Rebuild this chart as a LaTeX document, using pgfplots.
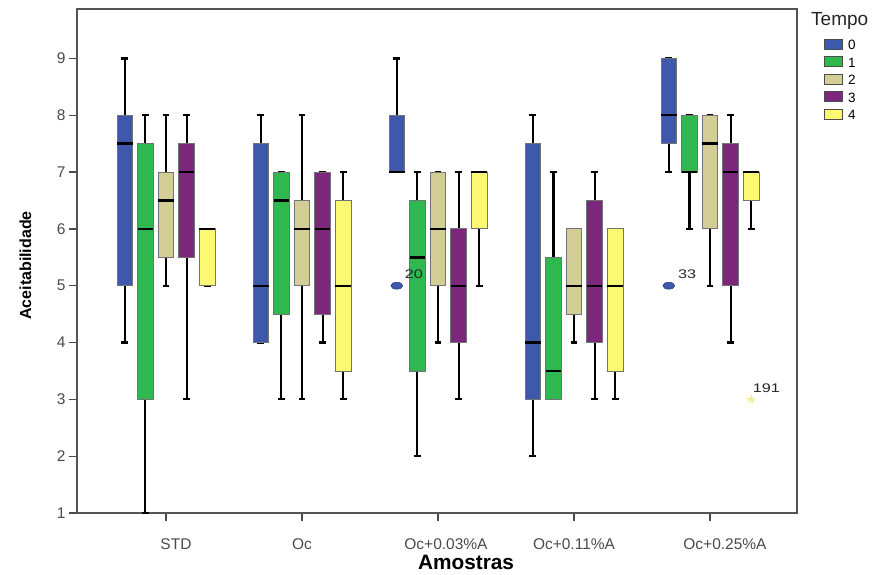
\documentclass[border=0pt]{standalone}
\usepackage{fontspec}
\setmainfont{Liberation Sans}
\usepackage{pgfplots}
\pgfplotsset{compat=1.18}
\usepgfplotslibrary{statistics}

\definecolor{c0}{HTML}{3E58AC}
\definecolor{c1}{HTML}{2EB84E}
\definecolor{c2}{HTML}{D3CE97}
\definecolor{c3}{HTML}{7C277C}
\definecolor{c4}{HTML}{FBF873}
\definecolor{starc}{HTML}{F2EA7A}
\definecolor{framec}{HTML}{555555}
\definecolor{tickc}{HTML}{4A4A4A}

% color, position, lower whisker, lower quartile, median, upper quartile, upper whisker
\newcommand{\bp}[7]{%
\addplot[forget plot, draw=black, line width=2.2pt,
  boxplot/every box/.style={fill=#1, draw=black!55, line width=0.8pt},
  boxplot/every whisker/.style={draw=black, line width=2.2pt},
  boxplot/every median/.style={draw=black, line width=2.4pt},
  boxplot prepared={draw position=#2, lower whisker=#3, lower quartile=#4,
  median=#5, upper quartile=#6, upper whisker=#7}] coordinates {};}

\begin{document}
\begin{tikzpicture}
\path[use as bounding box] (0,0) rectangle (873pt,574pt);
\begin{axis}[
  at={(77pt,61pt)}, anchor=south west,
  scale only axis, width=720pt, height=504pt,
  xmin=0.3456, xmax=5.6397, ymin=1, ymax=9.87,
  clip=false,
  axis line style={framec, line width=1.3pt},
  xtick={1,2,3,4,5},
  xticklabels={\hspace*{20pt}STD, Oc, \hspace*{16pt}Oc+0.03\%A, Oc+0.11\%A, \hspace*{30pt}Oc+0.25\%A},
  ytick={1,2,3,4,5,6,7,8,9},
  tick align=outside, xtick pos=bottom, ytick pos=left,
  major tick length=8pt,
  every tick/.style={tickc, line width=1.3pt},
  /pgf/number format/assume math mode=true,
  ticklabel style={font=\fontsize{15.5}{16}\selectfont, text=tickc},
  xticklabel style={yshift=-14pt},
  xlabel={Amostras}, ylabel={Aceitabilidade},
  xlabel style={at={(rel axis cs:0.5403,0)}, anchor=base, yshift=-56pt,
     font=\bfseries\fontsize{20.8}{21}\selectfont},
  ylabel style={at={(rel axis cs:-0.0715,0.491)}, anchor=center,
     font=\bfseries\fontsize{16}{16}\selectfont},
  boxplot/draw direction=y,
  boxplot/box extend=0.114,
  boxplot/whisker extend=0.05,
  legend style={at={(rel axis cs:1.0375,0.9464)}, anchor=north west,
     draw=none, fill=none, inner sep=0pt,
     font=\fontsize{13.5}{13.5}\selectfont,
     nodes={inner sep=0pt, minimum height=17.5pt, text height=9.7pt, text depth=0pt},
     /tikz/every odd column/.append style={column sep=5pt}},
  legend cell align=left,
  legend image code/.code={\draw[#1, draw=black!70, line width=0.8pt] (0pt,-4.2pt) rectangle (18pt,5.8pt);},
]
% STD
\bp{c0}{0.697}{4}{5}{7.5}{8}{9}
\bp{c1}{0.8485}{1}{3}{6}{7.5}{8}
\bp{c2}{1}{5}{5.5}{6.5}{7}{8}
\bp{c3}{1.1515}{3}{5.5}{7}{7.5}{8}
\bp{c4}{1.303}{5}{5}{6}{6}{6}
% Oc
\bp{c0}{1.697}{4}{4}{5}{7.5}{8}
\bp{c1}{1.8485}{3}{4.5}{6.5}{7}{7}
\bp{c2}{2}{3}{5}{6}{6.5}{8}
\bp{c3}{2.1515}{4}{4.5}{6}{7}{7}
\bp{c4}{2.303}{3}{3.5}{5}{6.5}{7}
% Oc+0.03%A
\bp{c0}{2.697}{7}{7}{7}{8}{9}
\bp{c1}{2.8485}{2}{3.5}{5.5}{6.5}{7}
\bp{c2}{3}{4}{5}{6}{7}{7}
\bp{c3}{3.1515}{3}{4}{5}{6}{7}
\bp{c4}{3.303}{5}{6}{7}{7}{7}
% Oc+0.11%A
\bp{c0}{3.697}{2}{3}{4}{7.5}{8}
\bp{c1}{3.8485}{3}{3}{3.5}{5.5}{7}
\bp{c2}{4}{4}{4.5}{5}{6}{6}
\bp{c3}{4.1515}{3}{4}{5}{6.5}{7}
\bp{c4}{4.303}{3}{3.5}{5}{6}{6}
% Oc+0.25%A
\bp{c0}{4.697}{7}{7.5}{8}{9}{9}
\bp{c1}{4.8485}{6}{7}{7}{8}{8}
\bp{c2}{5}{5}{6}{7.5}{8}{8}
\bp{c3}{5.1515}{4}{5}{7}{7.5}{8}
\bp{c4}{5.303}{6}{6.5}{7}{7}{7}
% outliers
\addplot[forget plot, only marks, mark=*, mark size=3.5pt,
  mark options={xscale=1.7, fill=c0, draw=c0!70!black, line width=0.5pt}]
  coordinates {(2.697,5) (4.697,5)};
\addplot[forget plot, only marks, mark=star, mark size=4pt,
  mark options={draw=starc, line width=1.3pt}]
  coordinates {(5.303,3)};
\node[anchor=base west, inner sep=0pt, xscale=1.3, font=\fontsize{12.5}{12.5}\selectfont, text=black!85, xshift=6pt, yshift=7pt] at (axis cs:2.697,5) {20};
\node[anchor=base west, inner sep=0pt, xscale=1.3, font=\fontsize{12.5}{12.5}\selectfont, text=black!85, xshift=7pt, yshift=7pt] at (axis cs:4.697,5) {33};
\node[anchor=base west, inner sep=0pt, xscale=1.3, font=\fontsize{12.5}{12.5}\selectfont, text=black!85, xshift=1pt, yshift=7pt] at (axis cs:5.303,3) {191};
% legend
\addlegendimage{fill=c0}\addlegendentry{0}
\addlegendimage{fill=c1}\addlegendentry{1}
\addlegendimage{fill=c2}\addlegendentry{2}
\addlegendimage{fill=c3}\addlegendentry{3}
\addlegendimage{fill=c4}\addlegendentry{4}
\node[anchor=base west, inner sep=0pt, font=\fontsize{19}{19}\selectfont, text=black!85] at (rel axis cs:1.0194,0.968) {Tempo};
\end{axis}
\end{tikzpicture}
\end{document}
